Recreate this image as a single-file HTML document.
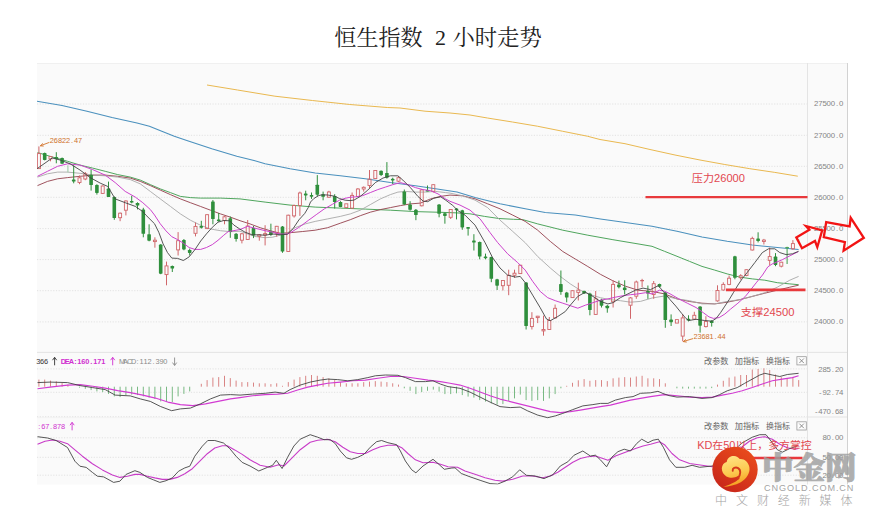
<!DOCTYPE html>
<html lang="zh-CN">
<head>
<meta charset="utf-8">
<title>恒生指数 2 小时走势</title>
<style>
html,body{margin:0;padding:0;background:#fff;}
body{width:869px;height:519px;overflow:hidden;font-family:"Liberation Sans","Noto Sans CJK SC",sans-serif;}
svg{display:block;position:absolute;left:0;top:0;}
</style>
</head>
<body>
<svg width="869" height="519" viewBox="0 0 869 519">
<rect x="37" y="63" width="810.5" height="421.5" fill="#fafafa"/>
<line x1="37" y1="63.5" x2="847.5" y2="63.5" stroke="#f0f0f0" stroke-width="1"/>
<line x1="37" y1="352.4" x2="847.5" y2="352.4" stroke="#e4e4e4" stroke-width="1"/>
<line x1="807.5" y1="417.0" x2="847.5" y2="417.0" stroke="#e4e4e4" stroke-width="1"/>
<line x1="37" y1="417.7" x2="807.5" y2="417.7" stroke="#f3f3f3" stroke-width="1"/>
<line x1="807.5" y1="63" x2="807.5" y2="484.5" stroke="#e4e4e4" stroke-width="1"/>
<line x1="847.5" y1="63" x2="847.5" y2="484.5" stroke="#d2d2d2" stroke-width="1"/>
<line x1="37" y1="104" x2="807.5" y2="104" stroke="#e2e2e2" stroke-width="1" stroke-dasharray="1.2 1.5"/>
<line x1="37" y1="135.3" x2="807.5" y2="135.3" stroke="#e2e2e2" stroke-width="1" stroke-dasharray="1.2 1.5"/>
<line x1="37" y1="166.3" x2="807.5" y2="166.3" stroke="#e2e2e2" stroke-width="1" stroke-dasharray="1.2 1.5"/>
<line x1="37" y1="197.3" x2="807.5" y2="197.3" stroke="#e2e2e2" stroke-width="1" stroke-dasharray="1.2 1.5"/>
<line x1="37" y1="228.6" x2="807.5" y2="228.6" stroke="#e2e2e2" stroke-width="1" stroke-dasharray="1.2 1.5"/>
<line x1="37" y1="259.6" x2="807.5" y2="259.6" stroke="#e2e2e2" stroke-width="1" stroke-dasharray="1.2 1.5"/>
<line x1="37" y1="290.7" x2="807.5" y2="290.7" stroke="#e2e2e2" stroke-width="1" stroke-dasharray="1.2 1.5"/>
<line x1="37" y1="321.9" x2="807.5" y2="321.9" stroke="#e2e2e2" stroke-width="1" stroke-dasharray="1.2 1.5"/>
<line x1="37" y1="368.9" x2="807.5" y2="368.9" stroke="#e2e2e2" stroke-width="1" stroke-dasharray="1.2 1.5"/>
<line x1="37" y1="392.3" x2="807.5" y2="392.3" stroke="#e2e2e2" stroke-width="1" stroke-dasharray="1.2 1.5"/>
<line x1="37" y1="416.7" x2="807.5" y2="416.7" stroke="#e2e2e2" stroke-width="1" stroke-dasharray="1.2 1.5"/>
<line x1="37" y1="437.8" x2="807.5" y2="437.8" stroke="#e2e2e2" stroke-width="1" stroke-dasharray="1.2 1.5"/>
<line x1="37" y1="457.3" x2="807.5" y2="457.3" stroke="#e2e2e2" stroke-width="1" stroke-dasharray="1.2 1.5"/>
<line x1="37" y1="475.2" x2="807.5" y2="475.2" stroke="#e2e2e2" stroke-width="1" stroke-dasharray="1.2 1.5"/>
<text x="814.1 818.3 822.5 826.6 830.8 836 839.1" y="106.3" font-family="'Liberation Sans', sans-serif" font-size="7.8" fill="#858585" font-weight="normal">27500.0</text>
<text x="814.1 818.3 822.5 826.6 830.8 836 839.1" y="137.6" font-family="'Liberation Sans', sans-serif" font-size="7.8" fill="#858585" font-weight="normal">27000.0</text>
<text x="814.1 818.3 822.5 826.6 830.8 836 839.1" y="168.6" font-family="'Liberation Sans', sans-serif" font-size="7.8" fill="#858585" font-weight="normal">26500.0</text>
<text x="814.1 818.3 822.5 826.6 830.8 836 839.1" y="199.6" font-family="'Liberation Sans', sans-serif" font-size="7.8" fill="#858585" font-weight="normal">26000.0</text>
<text x="814.1 818.3 822.5 826.6 830.8 836 839.1" y="230.9" font-family="'Liberation Sans', sans-serif" font-size="7.8" fill="#858585" font-weight="normal">25500.0</text>
<text x="814.1 818.3 822.5 826.6 830.8 836 839.1" y="261.9" font-family="'Liberation Sans', sans-serif" font-size="7.8" fill="#858585" font-weight="normal">25000.0</text>
<text x="814.1 818.3 822.5 826.6 830.8 836 839.1" y="293" font-family="'Liberation Sans', sans-serif" font-size="7.8" fill="#858585" font-weight="normal">24500.0</text>
<text x="814.1 818.3 822.5 826.6 830.8 836 839.1" y="324.2" font-family="'Liberation Sans', sans-serif" font-size="7.8" fill="#858585" font-weight="normal">24000.0</text>
<text x="818.3 822.5 826.6 831.8 835 839.1" y="371.5" font-family="'Liberation Sans', sans-serif" font-size="7.8" fill="#858585" font-weight="normal">285.20</text>
<text x="819.1 822.5 826.6 831.8 835 839.1" y="394.9" font-family="'Liberation Sans', sans-serif" font-size="7.8" fill="#858585" font-weight="normal">-92.74</text>
<text x="814.9 818.3 822.5 826.6 831.8 835 839.1" y="413.9" font-family="'Liberation Sans', sans-serif" font-size="7.8" fill="#858585" font-weight="normal">-470.68</text>
<text x="822.5 826.6 831.8 835 839.1" y="440.3" font-family="'Liberation Sans', sans-serif" font-size="7.8" fill="#858585" font-weight="normal">80.00</text>
<text x="822.5 826.6 831.8 835 839.1" y="459.6" font-family="'Liberation Sans', sans-serif" font-size="7.8" fill="#858585" font-weight="normal">50.00</text>
<text x="822.5 826.6 831.8 835 839.1" y="477.7" font-family="'Liberation Sans', sans-serif" font-size="7.8" fill="#858585" font-weight="normal">20.00</text>
<clipPath id="cp"><rect x="37" y="63" width="770.5" height="421.5"/></clipPath>
<g clip-path="url(#cp)">
<polyline points="207,85 237.5,90 274.9,96.2 312.4,100.5 349.8,104.5 387.3,107.5 400,108 425,111.2 450,113 470,115 487.4,118 512.4,122 537.3,126.2 562.3,131.2 587.3,136.2 600,139.5 625,143.7 650,149.5 675,155 700,160 724.8,164.5 749.8,168.7 774.8,172.4 797.8,176.2" fill="none" stroke="#e9b850" stroke-width="1.0" stroke-linejoin="round" />
<polyline points="37,101.2 62,105.5 87,111.2 112,117.5 137,123 149.4,126.2 161.8,131.2 174.3,136.2 186.8,140.4 211.8,148.7 236.8,156.2 254,160.4 265.1,163.8 290.1,168.8 315.2,173.1 340.3,175.8 365.3,178.8 390.4,182.6 415.4,185.8 440.5,189.6 457,192.1 475,197.6 500,203.8 525.2,208.8 545.2,212.6 575.3,215.1 600.4,218.9 625.4,222.6 652,226.3 677,231.3 702,237 727.2,241.3 752.3,245 777.3,247.6 798.6,249.6" fill="none" stroke="#4a90bd" stroke-width="1.05" stroke-linejoin="round" />
<polyline points="37.5,152.5 50,156.3 67.6,161.3 80.1,165.1 92.7,168.1 105.2,171.3 117.7,174.6 130.3,177.1 140.3,180.1 150.3,184.6 160.3,188.9 170.4,192.6 180.4,196.4 190.4,197.6 200.4,198.1 220.5,198.1 240,198.9 265.1,202.1 290.1,205.1 315.2,207.1 340.3,208.1 365.3,209.1 390.4,210.2 415.4,211.6 440.5,212.3 457,212.9 470,213.8 484.5,216.4 498.9,218.5 513.4,219.3 522.7,219.6 537.7,223.9 562.8,230.2 587.8,235.2 612.9,239.7 638,243.9 652,246.3 664.5,251.3 677,256.3 689.6,261.4 702,266.4 714.7,270.1 727.2,273.9 739.7,277.1 752.3,278.9 764.8,280.2 777.3,282.7 789.8,283.9 798.6,284.7" fill="none" stroke="#46a054" stroke-width="0.95" stroke-linejoin="round" />
<polyline points="37.5,185.6 47.5,181.4 57.6,178.8 67.6,177.6 80.1,176.3 92.7,175.1 105.2,175.1 117.7,176.3 130.3,178.1 140.3,181.4 150.3,185.6 160.3,190.1 170.4,194.6 180.4,198.9 190.4,202.7 200.4,206.4 210.5,210.2 220.5,213.9 230.5,217.2 240,220.7 250,223.9 260.1,227.7 270.1,230.7 280.1,233.2 290.1,232.7 302.7,231.5 315.2,230.2 327.7,227.7 340.3,223.2 350.3,219.7 360.3,215.7 370.3,212.2 380.4,209.6 390.4,207.6 400.4,205.6 410.4,203.9 420.5,203.1 430.5,198.9 440.5,196.4 450,195.1 462.5,195.8 475,198.8 487.6,203.8 500,208.8 512.7,215.1 525.2,221.4 537.7,230.2 550.3,241.4 562.8,251.5 575.3,259 587.8,266.5 600.4,274.3 612.9,280.8 625.4,286.2 638,290.2 652,291.4 664.5,293.9 677,298.9 689.6,301.5 702,303.2 714.7,303.9 727.2,302.2 739.7,299.7 752.3,296.4 764.8,293.2 777.3,290.2 789.8,287.2 798.6,285.2" fill="none" stroke="#94404c" stroke-width="0.9" stroke-linejoin="round" />
<polyline points="37.5,177.1 47.5,173.8 57.6,172.1 67.6,172.1 80.1,173.3 92.7,175.1 105.2,175.8 117.7,177.1 130.3,179.6 140.3,183.9 150.3,191.4 160.3,198.9 170.4,206.4 180.4,213.9 190.4,220.2 200.4,225.2 210.5,229 220.5,230.7 230.5,231.7 240,231.2 255,236.5 265.1,237.7 272.6,237.2 280.1,235.2 287.6,232.7 295.1,227.7 305.2,223.9 315.2,221.4 327.7,218.9 340.3,216.4 350.3,213.9 360.3,210.2 370.3,204.6 380.4,198.9 390.4,194.6 397.9,192.1 405.4,191.4 415.4,192.1 425.5,192.1 435.5,191.4 445.5,192.6 450,193.1 462.5,195.8 475,200.1 487.6,207.6 500,220.1 512.7,231.4 525.2,242.7 537.7,256.5 550.3,268 560.3,276.4 570.3,283.9 580.3,290.2 590.4,294.7 600.4,297.7 610.4,299.7 620.4,300.7 630.5,302.2 640.5,301.4 652,298 664.5,296 677,298.9 689.6,300.7 702,303.9 714.7,303.9 727.2,301.4 739.7,299.7 752.3,296.4 764.8,292.7 777.3,287.2 789.8,280.2 798.6,276.4" fill="none" stroke="#a8a8a8" stroke-width="0.9" stroke-linejoin="round" />
<line x1="38.9" y1="146.4" x2="38.9" y2="153.6" stroke="#d0666a" stroke-width="1"/>
<rect x="37.4" y="153.6" width="3" height="15" fill="none" stroke="#d0666a" stroke-width="0.9"/>
<line x1="44.7" y1="152.6" x2="44.7" y2="160.4" stroke="#2f8f3c" stroke-width="1"/>
<rect x="42.9" y="153.1" width="3.6" height="6.8" rx="0.6" fill="#2f8f3c"/>
<line x1="50.5" y1="158.9" x2="50.5" y2="161.3" stroke="#d0666a" stroke-width="1"/>
<rect x="49" y="156.5" width="3" height="2.4" fill="none" stroke="#d0666a" stroke-width="0.9"/>
<line x1="56.3" y1="152.2" x2="56.3" y2="163.3" stroke="#2f8f3c" stroke-width="1"/>
<rect x="54.5" y="157" width="3.6" height="2" rx="0.6" fill="#2f8f3c"/>
<line x1="62.1" y1="157.5" x2="62.1" y2="163.7" stroke="#2f8f3c" stroke-width="1"/>
<rect x="60.3" y="158" width="3.6" height="5.7" rx="0.6" fill="#2f8f3c"/>
<line x1="67.9" y1="165.2" x2="67.9" y2="172.4" stroke="#a9cdb0" stroke-width="1.2"/>
<line x1="73.7" y1="165.2" x2="73.7" y2="183.3" stroke="#2f8f3c" stroke-width="1"/>
<rect x="71.9" y="179.5" width="3.6" height="2.1" rx="0.6" fill="#2f8f3c"/>
<line x1="79.5" y1="175.5" x2="79.5" y2="177.8" stroke="#d0666a" stroke-width="1"/>
<line x1="79.5" y1="182.5" x2="79.5" y2="184.2" stroke="#d0666a" stroke-width="1"/>
<rect x="78" y="177.8" width="3" height="4.7" fill="none" stroke="#d0666a" stroke-width="0.9"/>
<line x1="85.3" y1="172" x2="85.3" y2="173.8" stroke="#d0666a" stroke-width="1"/>
<line x1="85.3" y1="179" x2="85.3" y2="180.2" stroke="#d0666a" stroke-width="1"/>
<rect x="83.8" y="173.8" width="3" height="5.2" fill="none" stroke="#d0666a" stroke-width="0.9"/>
<line x1="91.1" y1="169.5" x2="91.1" y2="190.6" stroke="#2f8f3c" stroke-width="1"/>
<rect x="89.3" y="174.7" width="3.6" height="10.3" rx="0.6" fill="#2f8f3c"/>
<line x1="96.9" y1="184.2" x2="96.9" y2="194.6" stroke="#2f8f3c" stroke-width="1"/>
<rect x="95.1" y="185" width="3.6" height="7.9" rx="0.6" fill="#2f8f3c"/>
<line x1="102.7" y1="185.5" x2="102.7" y2="186" stroke="#d0666a" stroke-width="1"/>
<line x1="102.7" y1="193.4" x2="102.7" y2="194" stroke="#d0666a" stroke-width="1"/>
<rect x="101.2" y="186" width="3" height="7.4" fill="none" stroke="#d0666a" stroke-width="0.9"/>
<line x1="108.5" y1="181.6" x2="108.5" y2="196.9" stroke="#2f8f3c" stroke-width="1"/>
<rect x="106.7" y="188.6" width="3.6" height="8.3" rx="0.6" fill="#2f8f3c"/>
<line x1="114.3" y1="196.4" x2="114.3" y2="219.8" stroke="#2f8f3c" stroke-width="1"/>
<rect x="112.5" y="196.9" width="3.6" height="21.1" rx="0.6" fill="#2f8f3c"/>
<line x1="120.1" y1="212.5" x2="120.1" y2="213.2" stroke="#d0666a" stroke-width="1"/>
<line x1="120.1" y1="217.7" x2="120.1" y2="221.2" stroke="#d0666a" stroke-width="1"/>
<rect x="118.6" y="213.2" width="3" height="4.5" fill="none" stroke="#d0666a" stroke-width="0.9"/>
<line x1="125.9" y1="200.3" x2="125.9" y2="201" stroke="#d0666a" stroke-width="1"/>
<line x1="125.9" y1="210.2" x2="125.9" y2="215.4" stroke="#d0666a" stroke-width="1"/>
<rect x="124.4" y="201" width="3" height="9.2" fill="none" stroke="#d0666a" stroke-width="0.9"/>
<line x1="131.7" y1="195.8" x2="131.7" y2="203.3" stroke="#2f8f3c" stroke-width="1"/>
<rect x="129.9" y="201" width="3.6" height="1.6" rx="0.6" fill="#2f8f3c"/>
<line x1="137.5" y1="202.3" x2="137.5" y2="209.4" stroke="#2f8f3c" stroke-width="1"/>
<rect x="135.7" y="203" width="3.6" height="2.5" rx="0.6" fill="#2f8f3c"/>
<line x1="143.3" y1="207.8" x2="143.3" y2="237.3" stroke="#2f8f3c" stroke-width="1"/>
<rect x="141.5" y="209.5" width="3.6" height="24.3" rx="0.6" fill="#2f8f3c"/>
<line x1="149.1" y1="224.3" x2="149.1" y2="241.3" stroke="#2f8f3c" stroke-width="1"/>
<rect x="147.3" y="234.2" width="3.6" height="6.5" rx="0.6" fill="#2f8f3c"/>
<line x1="154.9" y1="237.3" x2="154.9" y2="240.2" stroke="#d0666a" stroke-width="1"/>
<line x1="154.9" y1="241.6" x2="154.9" y2="247.7" stroke="#d0666a" stroke-width="1"/>
<rect x="153.4" y="240.2" width="3" height="1.4" fill="none" stroke="#d0666a" stroke-width="0.9"/>
<line x1="160.7" y1="244.2" x2="160.7" y2="274.2" stroke="#2f8f3c" stroke-width="1"/>
<rect x="158.9" y="244.6" width="3.6" height="29.1" rx="0.6" fill="#2f8f3c"/>
<line x1="166.5" y1="261.6" x2="166.5" y2="265.9" stroke="#d0666a" stroke-width="1"/>
<line x1="166.5" y1="274.6" x2="166.5" y2="285.3" stroke="#d0666a" stroke-width="1"/>
<rect x="165" y="265.9" width="3" height="8.7" fill="none" stroke="#d0666a" stroke-width="0.9"/>
<line x1="172.3" y1="265.5" x2="172.3" y2="272" stroke="#2f8f3c" stroke-width="1"/>
<rect x="170.5" y="265.9" width="3.6" height="2.6" rx="0.6" fill="#2f8f3c"/>
<line x1="178.1" y1="232.1" x2="178.1" y2="240.7" stroke="#d0666a" stroke-width="1"/>
<line x1="178.1" y1="249.9" x2="178.1" y2="255.5" stroke="#d0666a" stroke-width="1"/>
<rect x="176.6" y="240.7" width="3" height="9.2" fill="none" stroke="#d0666a" stroke-width="0.9"/>
<line x1="183.9" y1="239" x2="183.9" y2="250.3" stroke="#2f8f3c" stroke-width="1"/>
<rect x="182.1" y="239.9" width="3.6" height="9.5" rx="0.6" fill="#2f8f3c"/>
<line x1="189.7" y1="248.6" x2="189.7" y2="255.5" stroke="#2f8f3c" stroke-width="1"/>
<rect x="187.9" y="249.9" width="3.6" height="3" rx="0.6" fill="#2f8f3c"/>
<line x1="195.5" y1="222.5" x2="195.5" y2="226.4" stroke="#d0666a" stroke-width="1"/>
<line x1="195.5" y1="233.3" x2="195.5" y2="236.4" stroke="#d0666a" stroke-width="1"/>
<rect x="194" y="226.4" width="3" height="6.9" fill="none" stroke="#d0666a" stroke-width="0.9"/>
<line x1="201.3" y1="220.8" x2="201.3" y2="228.6" stroke="#2f8f3c" stroke-width="1"/>
<rect x="199.5" y="226" width="3.6" height="1.7" rx="0.6" fill="#2f8f3c"/>
<line x1="207.1" y1="214.2" x2="207.1" y2="214.7" stroke="#d0666a" stroke-width="1"/>
<line x1="207.1" y1="228.6" x2="207.1" y2="229.1" stroke="#d0666a" stroke-width="1"/>
<rect x="205.6" y="214.7" width="3" height="13.9" fill="none" stroke="#d0666a" stroke-width="0.9"/>
<line x1="212.9" y1="200" x2="212.9" y2="224.3" stroke="#2f8f3c" stroke-width="1"/>
<rect x="211.1" y="201.4" width="3.6" height="17.7" rx="0.6" fill="#2f8f3c"/>
<line x1="218.7" y1="213" x2="218.7" y2="221.7" stroke="#2f8f3c" stroke-width="1"/>
<rect x="216.9" y="219.6" width="3.6" height="1.6" rx="0.6" fill="#2f8f3c"/>
<line x1="224.5" y1="215.6" x2="224.5" y2="216.8" stroke="#d0666a" stroke-width="1"/>
<line x1="224.5" y1="220.5" x2="224.5" y2="224.3" stroke="#d0666a" stroke-width="1"/>
<rect x="223" y="216.8" width="3" height="3.7" fill="none" stroke="#d0666a" stroke-width="0.9"/>
<line x1="230.3" y1="216.5" x2="230.3" y2="237.8" stroke="#2f8f3c" stroke-width="1"/>
<rect x="228.5" y="218.2" width="3.6" height="13.9" rx="0.6" fill="#2f8f3c"/>
<line x1="236.1" y1="233" x2="236.1" y2="241.6" stroke="#2f8f3c" stroke-width="1"/>
<rect x="234.3" y="233.8" width="3.6" height="5.2" rx="0.6" fill="#2f8f3c"/>
<line x1="241.9" y1="233" x2="241.9" y2="233.8" stroke="#d0666a" stroke-width="1"/>
<line x1="241.9" y1="240.2" x2="241.9" y2="243.4" stroke="#d0666a" stroke-width="1"/>
<rect x="240.4" y="233.8" width="3" height="6.4" fill="none" stroke="#d0666a" stroke-width="0.9"/>
<line x1="247.7" y1="220" x2="247.7" y2="226" stroke="#d0666a" stroke-width="1"/>
<line x1="247.7" y1="239.5" x2="247.7" y2="240" stroke="#d0666a" stroke-width="1"/>
<rect x="246.2" y="226" width="3" height="13.5" fill="none" stroke="#d0666a" stroke-width="0.9"/>
<line x1="253.5" y1="226" x2="253.5" y2="238.1" stroke="#2f8f3c" stroke-width="1"/>
<rect x="251.7" y="228.1" width="3.6" height="7.4" rx="0.6" fill="#2f8f3c"/>
<line x1="259.3" y1="234" x2="259.3" y2="234.7" stroke="#d0666a" stroke-width="1"/>
<line x1="259.3" y1="236.3" x2="259.3" y2="240.7" stroke="#d0666a" stroke-width="1"/>
<rect x="257.8" y="234.7" width="3" height="1.6" fill="none" stroke="#d0666a" stroke-width="0.9"/>
<line x1="265.1" y1="225.2" x2="265.1" y2="233.6" stroke="#d0666a" stroke-width="1"/>
<line x1="265.1" y1="234.6" x2="265.1" y2="245.4" stroke="#d0666a" stroke-width="1"/>
<rect x="263.6" y="233.6" width="3" height="1.4" fill="none" stroke="#d0666a" stroke-width="0.9"/>
<line x1="270.9" y1="223.7" x2="270.9" y2="235.9" stroke="#2f8f3c" stroke-width="1"/>
<rect x="269.1" y="231.5" width="3.6" height="3.5" rx="0.6" fill="#2f8f3c"/>
<line x1="276.7" y1="225.9" x2="276.7" y2="226.3" stroke="#d0666a" stroke-width="1"/>
<line x1="276.7" y1="233.2" x2="276.7" y2="236.7" stroke="#d0666a" stroke-width="1"/>
<rect x="275.2" y="226.3" width="3" height="6.9" fill="none" stroke="#d0666a" stroke-width="0.9"/>
<line x1="282.5" y1="226" x2="282.5" y2="252.8" stroke="#2f8f3c" stroke-width="1"/>
<rect x="280.7" y="226.4" width="3.6" height="25.1" rx="0.6" fill="#2f8f3c"/>
<line x1="288.3" y1="214.7" x2="288.3" y2="215.2" stroke="#d0666a" stroke-width="1"/>
<line x1="288.3" y1="251.5" x2="288.3" y2="252" stroke="#d0666a" stroke-width="1"/>
<rect x="286.8" y="215.2" width="3" height="36.3" fill="none" stroke="#d0666a" stroke-width="0.9"/>
<line x1="294.1" y1="204.6" x2="294.1" y2="205.5" stroke="#d0666a" stroke-width="1"/>
<line x1="294.1" y1="215.9" x2="294.1" y2="217.6" stroke="#d0666a" stroke-width="1"/>
<rect x="292.6" y="205.5" width="3" height="10.4" fill="none" stroke="#d0666a" stroke-width="0.9"/>
<line x1="299.9" y1="191.6" x2="299.9" y2="193" stroke="#d0666a" stroke-width="1"/>
<line x1="299.9" y1="205.5" x2="299.9" y2="215.9" stroke="#d0666a" stroke-width="1"/>
<rect x="298.4" y="193" width="3" height="12.5" fill="none" stroke="#d0666a" stroke-width="0.9"/>
<line x1="305.7" y1="190.7" x2="305.7" y2="200.3" stroke="#2f8f3c" stroke-width="1"/>
<rect x="303.9" y="193.4" width="3.6" height="2" rx="0.6" fill="#2f8f3c"/>
<line x1="311.5" y1="192.5" x2="311.5" y2="198.9" stroke="#2f8f3c" stroke-width="1"/>
<rect x="309.7" y="195.1" width="3.6" height="1.6" rx="0.6" fill="#2f8f3c"/>
<line x1="317.3" y1="175.1" x2="317.3" y2="196.5" stroke="#2f8f3c" stroke-width="1"/>
<rect x="315.5" y="184.7" width="3.6" height="10" rx="0.6" fill="#2f8f3c"/>
<line x1="323.1" y1="191.6" x2="323.1" y2="200.3" stroke="#2f8f3c" stroke-width="1"/>
<rect x="321.3" y="194.2" width="3.6" height="2.6" rx="0.6" fill="#2f8f3c"/>
<line x1="328.9" y1="190.8" x2="328.9" y2="192" stroke="#d0666a" stroke-width="1"/>
<line x1="328.9" y1="197.2" x2="328.9" y2="197.7" stroke="#d0666a" stroke-width="1"/>
<rect x="327.4" y="192" width="3" height="5.2" fill="none" stroke="#d0666a" stroke-width="0.9"/>
<line x1="334.7" y1="194.2" x2="334.7" y2="208.6" stroke="#2f8f3c" stroke-width="1"/>
<rect x="332.9" y="196" width="3.6" height="6" rx="0.6" fill="#2f8f3c"/>
<line x1="340.5" y1="201.2" x2="340.5" y2="207.2" stroke="#2f8f3c" stroke-width="1"/>
<rect x="338.7" y="202" width="3.6" height="4.9" rx="0.6" fill="#2f8f3c"/>
<rect x="344.8" y="203.8" width="3" height="3.8" fill="none" stroke="#d0666a" stroke-width="0.9"/>
<line x1="352.1" y1="192.5" x2="352.1" y2="195.4" stroke="#d0666a" stroke-width="1"/>
<line x1="352.1" y1="208.1" x2="352.1" y2="208.6" stroke="#d0666a" stroke-width="1"/>
<rect x="350.6" y="195.4" width="3" height="12.7" fill="none" stroke="#d0666a" stroke-width="0.9"/>
<line x1="357.9" y1="188.1" x2="357.9" y2="189" stroke="#d0666a" stroke-width="1"/>
<line x1="357.9" y1="196.5" x2="357.9" y2="197.2" stroke="#d0666a" stroke-width="1"/>
<rect x="356.4" y="189" width="3" height="7.5" fill="none" stroke="#d0666a" stroke-width="0.9"/>
<line x1="363.7" y1="186.4" x2="363.7" y2="187.3" stroke="#d0666a" stroke-width="1"/>
<line x1="363.7" y1="189" x2="363.7" y2="191.6" stroke="#d0666a" stroke-width="1"/>
<rect x="362.2" y="187.3" width="3" height="1.7" fill="none" stroke="#d0666a" stroke-width="0.9"/>
<line x1="369.5" y1="170" x2="369.5" y2="179.1" stroke="#d0666a" stroke-width="1"/>
<line x1="369.5" y1="185.5" x2="369.5" y2="188.1" stroke="#d0666a" stroke-width="1"/>
<rect x="368" y="179.1" width="3" height="6.4" fill="none" stroke="#d0666a" stroke-width="0.9"/>
<line x1="375.3" y1="170" x2="375.3" y2="170.5" stroke="#d0666a" stroke-width="1"/>
<line x1="375.3" y1="178.6" x2="375.3" y2="179" stroke="#d0666a" stroke-width="1"/>
<rect x="373.8" y="170.5" width="3" height="8.1" fill="none" stroke="#d0666a" stroke-width="0.9"/>
<line x1="381.1" y1="170.5" x2="381.1" y2="176" stroke="#2f8f3c" stroke-width="1"/>
<rect x="379.3" y="170.8" width="3.6" height="4.3" rx="0.6" fill="#2f8f3c"/>
<line x1="386.9" y1="162.1" x2="386.9" y2="178.6" stroke="#2f8f3c" stroke-width="1"/>
<rect x="385.1" y="172.9" width="3.6" height="4.8" rx="0.6" fill="#2f8f3c"/>
<line x1="392.7" y1="177.7" x2="392.7" y2="184" stroke="#2f8f3c" stroke-width="1"/>
<rect x="390.9" y="178.8" width="3.6" height="1.6" rx="0.6" fill="#2f8f3c"/>
<line x1="398.5" y1="176" x2="398.5" y2="177.7" stroke="#d0666a" stroke-width="1"/>
<line x1="398.5" y1="181.2" x2="398.5" y2="182" stroke="#d0666a" stroke-width="1"/>
<rect x="397" y="177.7" width="3" height="3.5" fill="none" stroke="#d0666a" stroke-width="0.9"/>
<line x1="404.3" y1="189.5" x2="404.3" y2="205.1" stroke="#2f8f3c" stroke-width="1"/>
<rect x="402.5" y="191.6" width="3.6" height="13" rx="0.6" fill="#2f8f3c"/>
<line x1="410.1" y1="201.2" x2="410.1" y2="210.7" stroke="#2f8f3c" stroke-width="1"/>
<rect x="408.3" y="204.6" width="3.6" height="5.2" rx="0.6" fill="#2f8f3c"/>
<line x1="415.9" y1="209" x2="415.9" y2="220.2" stroke="#2f8f3c" stroke-width="1"/>
<rect x="414.1" y="209.8" width="3.6" height="5.2" rx="0.6" fill="#2f8f3c"/>
<line x1="421.7" y1="189" x2="421.7" y2="189.9" stroke="#d0666a" stroke-width="1"/>
<line x1="421.7" y1="205.8" x2="421.7" y2="206.4" stroke="#d0666a" stroke-width="1"/>
<rect x="420.2" y="189.9" width="3" height="15.9" fill="none" stroke="#d0666a" stroke-width="0.9"/>
<line x1="427.5" y1="185.5" x2="427.5" y2="191.3" stroke="#2f8f3c" stroke-width="1"/>
<rect x="425.7" y="189.9" width="3.6" height="1.6" rx="0.6" fill="#2f8f3c"/>
<line x1="433.3" y1="184.3" x2="433.3" y2="184.7" stroke="#d0666a" stroke-width="1"/>
<line x1="433.3" y1="191.3" x2="433.3" y2="192.5" stroke="#d0666a" stroke-width="1"/>
<rect x="431.8" y="184.7" width="3" height="6.6" fill="none" stroke="#d0666a" stroke-width="0.9"/>
<line x1="439.1" y1="204.1" x2="439.1" y2="217.3" stroke="#2f8f3c" stroke-width="1"/>
<rect x="437.3" y="204.6" width="3.6" height="9.2" rx="0.6" fill="#2f8f3c"/>
<line x1="444.9" y1="212.4" x2="444.9" y2="223.7" stroke="#2f8f3c" stroke-width="1"/>
<rect x="443.1" y="213.3" width="3.6" height="2.6" rx="0.6" fill="#2f8f3c"/>
<line x1="450.7" y1="209" x2="450.7" y2="209.5" stroke="#d0666a" stroke-width="1"/>
<line x1="450.7" y1="217.3" x2="450.7" y2="219" stroke="#d0666a" stroke-width="1"/>
<rect x="449.2" y="209.5" width="3" height="7.8" fill="none" stroke="#d0666a" stroke-width="0.9"/>
<line x1="456.5" y1="208.1" x2="456.5" y2="219.4" stroke="#2f8f3c" stroke-width="1"/>
<rect x="454.7" y="208.6" width="3.6" height="1.6" rx="0.6" fill="#2f8f3c"/>
<line x1="462.3" y1="209.8" x2="462.3" y2="229.8" stroke="#2f8f3c" stroke-width="1"/>
<rect x="460.5" y="210.3" width="3.6" height="17.1" rx="0.6" fill="#2f8f3c"/>
<line x1="468.1" y1="227.1" x2="468.1" y2="235.6" stroke="#2f8f3c" stroke-width="1"/>
<rect x="466.3" y="227.1" width="3.6" height="1.6" rx="0.6" fill="#2f8f3c"/>
<line x1="473.9" y1="234.2" x2="473.9" y2="250.5" stroke="#2f8f3c" stroke-width="1"/>
<rect x="472.1" y="240.5" width="3.6" height="2" rx="0.6" fill="#2f8f3c"/>
<line x1="479.7" y1="241.5" x2="479.7" y2="259.3" stroke="#2f8f3c" stroke-width="1"/>
<rect x="477.9" y="242" width="3.6" height="14.6" rx="0.6" fill="#2f8f3c"/>
<line x1="485.5" y1="253.6" x2="485.5" y2="259.3" stroke="#2f8f3c" stroke-width="1"/>
<rect x="483.7" y="256.6" width="3.6" height="1.6" rx="0.6" fill="#2f8f3c"/>
<line x1="491.3" y1="256.6" x2="491.3" y2="282.2" stroke="#2f8f3c" stroke-width="1"/>
<rect x="489.5" y="257.1" width="3.6" height="21.7" rx="0.6" fill="#2f8f3c"/>
<line x1="497.1" y1="278.8" x2="497.1" y2="290" stroke="#2f8f3c" stroke-width="1"/>
<rect x="495.3" y="279.3" width="3.6" height="6.4" rx="0.6" fill="#2f8f3c"/>
<line x1="502.9" y1="280.1" x2="502.9" y2="280.5" stroke="#d0666a" stroke-width="1"/>
<line x1="502.9" y1="285.7" x2="502.9" y2="290.5" stroke="#d0666a" stroke-width="1"/>
<rect x="501.4" y="280.5" width="3" height="5.2" fill="none" stroke="#d0666a" stroke-width="0.9"/>
<line x1="508.7" y1="269.7" x2="508.7" y2="275.3" stroke="#d0666a" stroke-width="1"/>
<line x1="508.7" y1="285.3" x2="508.7" y2="295.2" stroke="#d0666a" stroke-width="1"/>
<rect x="507.2" y="275.3" width="3" height="10" fill="none" stroke="#d0666a" stroke-width="0.9"/>
<line x1="514.5" y1="269.7" x2="514.5" y2="273.2" stroke="#d0666a" stroke-width="1"/>
<line x1="514.5" y1="275.3" x2="514.5" y2="277.9" stroke="#d0666a" stroke-width="1"/>
<rect x="513" y="273.2" width="3" height="2.1" fill="none" stroke="#d0666a" stroke-width="0.9"/>
<line x1="520.3" y1="264.9" x2="520.3" y2="265.2" stroke="#d0666a" stroke-width="1"/>
<line x1="520.3" y1="273.6" x2="520.3" y2="273.9" stroke="#d0666a" stroke-width="1"/>
<rect x="518.8" y="265.2" width="3" height="8.4" fill="none" stroke="#d0666a" stroke-width="0.9"/>
<line x1="526.1" y1="282" x2="526.1" y2="329.5" stroke="#2f8f3c" stroke-width="1"/>
<rect x="524.3" y="282.4" width="3.6" height="43.6" rx="0.6" fill="#2f8f3c"/>
<line x1="531.9" y1="312.2" x2="531.9" y2="318.4" stroke="#d0666a" stroke-width="1"/>
<line x1="531.9" y1="326.6" x2="531.9" y2="329.5" stroke="#d0666a" stroke-width="1"/>
<rect x="530.4" y="318.4" width="3" height="8.2" fill="none" stroke="#d0666a" stroke-width="0.9"/>
<line x1="537.7" y1="315.9" x2="537.7" y2="316.2" stroke="#d0666a" stroke-width="1"/>
<line x1="537.7" y1="317.4" x2="537.7" y2="323.1" stroke="#d0666a" stroke-width="1"/>
<rect x="536.2" y="316.2" width="3" height="1.4" fill="none" stroke="#d0666a" stroke-width="0.9"/>
<line x1="543.5" y1="315.6" x2="543.5" y2="329.5" stroke="#d0666a" stroke-width="1"/>
<line x1="543.5" y1="330.5" x2="543.5" y2="335.7" stroke="#d0666a" stroke-width="1"/>
<rect x="542" y="329.5" width="3" height="1.4" fill="none" stroke="#d0666a" stroke-width="0.9"/>
<line x1="549.3" y1="317" x2="549.3" y2="320.5" stroke="#d0666a" stroke-width="1"/>
<line x1="549.3" y1="329.5" x2="549.3" y2="330" stroke="#d0666a" stroke-width="1"/>
<rect x="547.8" y="320.5" width="3" height="9" fill="none" stroke="#d0666a" stroke-width="0.9"/>
<line x1="555.1" y1="304.5" x2="555.1" y2="308.3" stroke="#d0666a" stroke-width="1"/>
<line x1="555.1" y1="317.9" x2="555.1" y2="318.4" stroke="#d0666a" stroke-width="1"/>
<rect x="553.6" y="308.3" width="3" height="9.6" fill="none" stroke="#d0666a" stroke-width="0.9"/>
<line x1="560.9" y1="270.5" x2="560.9" y2="294.8" stroke="#2f8f3c" stroke-width="1"/>
<rect x="559.1" y="284.1" width="3.6" height="7.8" rx="0.6" fill="#2f8f3c"/>
<line x1="566.7" y1="291.9" x2="566.7" y2="302.3" stroke="#2f8f3c" stroke-width="1"/>
<rect x="564.9" y="292.4" width="3.6" height="5.2" rx="0.6" fill="#2f8f3c"/>
<line x1="572.5" y1="290.3" x2="572.5" y2="290.7" stroke="#d0666a" stroke-width="1"/>
<line x1="572.5" y1="297.6" x2="572.5" y2="298" stroke="#d0666a" stroke-width="1"/>
<rect x="571" y="290.7" width="3" height="6.9" fill="none" stroke="#d0666a" stroke-width="0.9"/>
<line x1="578.3" y1="282.7" x2="578.3" y2="290.1" stroke="#d0666a" stroke-width="1"/>
<line x1="578.3" y1="292.4" x2="578.3" y2="300.5" stroke="#d0666a" stroke-width="1"/>
<rect x="576.8" y="290.1" width="3" height="2.3" fill="none" stroke="#d0666a" stroke-width="0.9"/>
<line x1="584.1" y1="290.5" x2="584.1" y2="294" stroke="#2f8f3c" stroke-width="1"/>
<rect x="582.3" y="291" width="3.6" height="2.6" rx="0.6" fill="#2f8f3c"/>
<line x1="589.9" y1="292.7" x2="589.9" y2="315.3" stroke="#2f8f3c" stroke-width="1"/>
<rect x="588.1" y="293.6" width="3.6" height="16.5" rx="0.6" fill="#2f8f3c"/>
<line x1="595.7" y1="291" x2="595.7" y2="298.8" stroke="#d0666a" stroke-width="1"/>
<line x1="595.7" y1="314.4" x2="595.7" y2="314.9" stroke="#d0666a" stroke-width="1"/>
<rect x="594.2" y="298.8" width="3" height="15.6" fill="none" stroke="#d0666a" stroke-width="0.9"/>
<line x1="601.5" y1="298.8" x2="601.5" y2="307.5" stroke="#2f8f3c" stroke-width="1"/>
<rect x="599.7" y="299.7" width="3.6" height="6" rx="0.6" fill="#2f8f3c"/>
<line x1="607.3" y1="304.9" x2="607.3" y2="312.7" stroke="#2f8f3c" stroke-width="1"/>
<rect x="605.5" y="305.7" width="3.6" height="2.6" rx="0.6" fill="#2f8f3c"/>
<line x1="613.1" y1="280.3" x2="613.1" y2="284.4" stroke="#d0666a" stroke-width="1"/>
<line x1="613.1" y1="301.8" x2="613.1" y2="307.5" stroke="#d0666a" stroke-width="1"/>
<rect x="611.6" y="284.4" width="3" height="17.4" fill="none" stroke="#d0666a" stroke-width="0.9"/>
<line x1="618.9" y1="280.6" x2="618.9" y2="288.4" stroke="#2f8f3c" stroke-width="1"/>
<rect x="617.1" y="284.4" width="3.6" height="2.8" rx="0.6" fill="#2f8f3c"/>
<line x1="624.7" y1="280.3" x2="624.7" y2="294.5" stroke="#2f8f3c" stroke-width="1"/>
<rect x="622.9" y="287.5" width="3.6" height="2.6" rx="0.6" fill="#2f8f3c"/>
<line x1="630.5" y1="297" x2="630.5" y2="297.9" stroke="#d0666a" stroke-width="1"/>
<line x1="630.5" y1="305.2" x2="630.5" y2="318.8" stroke="#d0666a" stroke-width="1"/>
<rect x="629" y="297.9" width="3" height="7.3" fill="none" stroke="#d0666a" stroke-width="0.9"/>
<line x1="636.3" y1="280.6" x2="636.3" y2="282" stroke="#d0666a" stroke-width="1"/>
<line x1="636.3" y1="296.2" x2="636.3" y2="298.8" stroke="#d0666a" stroke-width="1"/>
<rect x="634.8" y="282" width="3" height="14.2" fill="none" stroke="#d0666a" stroke-width="0.9"/>
<line x1="642.1" y1="278.8" x2="642.1" y2="287.2" stroke="#d0666a" stroke-width="1"/>
<line x1="640.2" y1="280.7" x2="644" y2="280.7" stroke="#d0666a" stroke-width="1.2"/>
<line x1="647.9" y1="285.5" x2="647.9" y2="298.8" stroke="#2f8f3c" stroke-width="1"/>
<rect x="646.1" y="291" width="3.6" height="2.6" rx="0.6" fill="#2f8f3c"/>
<line x1="653.7" y1="281" x2="653.7" y2="283.7" stroke="#d0666a" stroke-width="1"/>
<line x1="653.7" y1="294.5" x2="653.7" y2="298.8" stroke="#d0666a" stroke-width="1"/>
<rect x="652.2" y="283.7" width="3" height="10.8" fill="none" stroke="#d0666a" stroke-width="0.9"/>
<line x1="659.5" y1="283.7" x2="659.5" y2="287.5" stroke="#2f8f3c" stroke-width="1"/>
<rect x="657.7" y="284.1" width="3.6" height="2.6" rx="0.6" fill="#2f8f3c"/>
<line x1="665.3" y1="291.9" x2="665.3" y2="327.8" stroke="#2f8f3c" stroke-width="1"/>
<rect x="663.5" y="292.4" width="3.6" height="27.7" rx="0.6" fill="#2f8f3c"/>
<line x1="671.1" y1="314.4" x2="671.1" y2="326" stroke="#2f8f3c" stroke-width="1"/>
<rect x="669.3" y="319.6" width="3.6" height="2.6" rx="0.6" fill="#2f8f3c"/>
<rect x="675.4" y="319.6" width="3" height="3.5" fill="none" stroke="#d0666a" stroke-width="0.9"/>
<line x1="682.7" y1="314.4" x2="682.7" y2="317.9" stroke="#d0666a" stroke-width="1"/>
<line x1="682.7" y1="336.1" x2="682.7" y2="341.3" stroke="#d0666a" stroke-width="1"/>
<rect x="681.2" y="317.9" width="3" height="18.2" fill="none" stroke="#d0666a" stroke-width="0.9"/>
<line x1="688.5" y1="315.3" x2="688.5" y2="321.4" stroke="#2f8f3c" stroke-width="1"/>
<rect x="686.7" y="318.8" width="3.6" height="1.7" rx="0.6" fill="#2f8f3c"/>
<line x1="694.3" y1="311.8" x2="694.3" y2="315.3" stroke="#d0666a" stroke-width="1"/>
<line x1="694.3" y1="319.1" x2="694.3" y2="319.6" stroke="#d0666a" stroke-width="1"/>
<rect x="692.8" y="315.3" width="3" height="3.8" fill="none" stroke="#d0666a" stroke-width="0.9"/>
<line x1="700.1" y1="306.2" x2="700.1" y2="332.6" stroke="#2f8f3c" stroke-width="1"/>
<rect x="698.3" y="306.6" width="3.6" height="19.1" rx="0.6" fill="#2f8f3c"/>
<line x1="705.9" y1="316.2" x2="705.9" y2="321.4" stroke="#d0666a" stroke-width="1"/>
<line x1="705.9" y1="326.6" x2="705.9" y2="327.5" stroke="#d0666a" stroke-width="1"/>
<rect x="704.4" y="321.4" width="3" height="5.2" fill="none" stroke="#d0666a" stroke-width="0.9"/>
<line x1="711.7" y1="320.2" x2="711.7" y2="326.6" stroke="#2f8f3c" stroke-width="1"/>
<rect x="709.9" y="320.8" width="3.6" height="2.3" rx="0.6" fill="#2f8f3c"/>
<line x1="717.5" y1="285.3" x2="717.5" y2="290.5" stroke="#d0666a" stroke-width="1"/>
<line x1="717.5" y1="300.9" x2="717.5" y2="301.7" stroke="#d0666a" stroke-width="1"/>
<rect x="716" y="290.5" width="3" height="10.4" fill="none" stroke="#d0666a" stroke-width="0.9"/>
<line x1="723.3" y1="282.3" x2="723.3" y2="284.4" stroke="#d0666a" stroke-width="1"/>
<line x1="723.3" y1="290" x2="723.3" y2="290.6" stroke="#d0666a" stroke-width="1"/>
<rect x="721.8" y="284.4" width="3" height="5.6" fill="none" stroke="#d0666a" stroke-width="0.9"/>
<line x1="729.1" y1="275.5" x2="729.1" y2="278.2" stroke="#d0666a" stroke-width="1"/>
<line x1="729.1" y1="284.4" x2="729.1" y2="285.2" stroke="#d0666a" stroke-width="1"/>
<rect x="727.6" y="278.2" width="3" height="6.2" fill="none" stroke="#d0666a" stroke-width="0.9"/>
<line x1="734.9" y1="255.8" x2="734.9" y2="279.3" stroke="#2f8f3c" stroke-width="1"/>
<rect x="733.1" y="256.3" width="3.6" height="21.5" rx="0.6" fill="#2f8f3c"/>
<line x1="740.7" y1="274.2" x2="740.7" y2="275.7" stroke="#d0666a" stroke-width="1"/>
<line x1="740.7" y1="277.7" x2="740.7" y2="279.6" stroke="#d0666a" stroke-width="1"/>
<rect x="739.2" y="275.7" width="3" height="2" fill="none" stroke="#d0666a" stroke-width="0.9"/>
<line x1="746.5" y1="269.3" x2="746.5" y2="269.7" stroke="#d0666a" stroke-width="1"/>
<line x1="746.5" y1="275.5" x2="746.5" y2="276.2" stroke="#d0666a" stroke-width="1"/>
<rect x="745" y="269.7" width="3" height="5.8" fill="none" stroke="#d0666a" stroke-width="0.9"/>
<line x1="752.3" y1="236.7" x2="752.3" y2="238.4" stroke="#d0666a" stroke-width="1"/>
<line x1="752.3" y1="250" x2="752.3" y2="250.5" stroke="#d0666a" stroke-width="1"/>
<rect x="750.8" y="238.4" width="3" height="11.6" fill="none" stroke="#d0666a" stroke-width="0.9"/>
<line x1="758.1" y1="232.3" x2="758.1" y2="242.4" stroke="#2f8f3c" stroke-width="1"/>
<rect x="756.3" y="238.4" width="3.6" height="2.6" rx="0.6" fill="#2f8f3c"/>
<line x1="763.9" y1="238.9" x2="763.9" y2="240.1" stroke="#d0666a" stroke-width="1"/>
<line x1="763.9" y1="241.4" x2="763.9" y2="244.5" stroke="#d0666a" stroke-width="1"/>
<rect x="762.4" y="240.1" width="3" height="1.4" fill="none" stroke="#d0666a" stroke-width="0.9"/>
<line x1="769.7" y1="247.6" x2="769.7" y2="256.6" stroke="#d0666a" stroke-width="1"/>
<line x1="769.7" y1="260.4" x2="769.7" y2="265.3" stroke="#d0666a" stroke-width="1"/>
<rect x="768.2" y="256.6" width="3" height="3.8" fill="none" stroke="#d0666a" stroke-width="0.9"/>
<line x1="775.5" y1="253.1" x2="775.5" y2="266.2" stroke="#2f8f3c" stroke-width="1"/>
<rect x="773.7" y="256.6" width="3.6" height="8.3" rx="0.6" fill="#2f8f3c"/>
<line x1="781.3" y1="261.8" x2="781.3" y2="262.2" stroke="#d0666a" stroke-width="1"/>
<line x1="781.3" y1="266.2" x2="781.3" y2="267.4" stroke="#d0666a" stroke-width="1"/>
<rect x="779.8" y="262.2" width="3" height="4" fill="none" stroke="#d0666a" stroke-width="0.9"/>
<line x1="787.1" y1="246.7" x2="787.1" y2="264" stroke="#4fa65a" stroke-width="1.1"/>
<line x1="785.3" y1="247.6" x2="788.9" y2="247.6" stroke="#4fa65a" stroke-width="1.1"/>
<line x1="792.9" y1="240.1" x2="792.9" y2="243.6" stroke="#d0666a" stroke-width="1"/>
<line x1="792.9" y1="248.8" x2="792.9" y2="249.7" stroke="#d0666a" stroke-width="1"/>
<rect x="791.4" y="243.6" width="3" height="5.2" fill="none" stroke="#d0666a" stroke-width="0.9"/>
<line x1="798.7" y1="239.3" x2="798.7" y2="243.6" stroke="#a9cdb0" stroke-width="1.2"/>
<polyline points="37.5,176.3 47.5,171.3 57.6,166.3 67.6,163.8 80.1,165.1 92.7,169.6 105.2,175.1 115.2,182.6 125.2,191.4 135.3,197.1 142.8,202.7 150.3,209.5 154.5,215 160.2,223.7 166,230.9 171.8,236.7 177.6,239.6 183.4,243.2 189.1,247.5 194.9,249.4 200.7,249.4 206.5,247.5 212.3,244.6 218,240.3 223.8,235.2 228.2,231.6 233.9,230.6 240,229.5 247.5,226.4 255,228.2 265.1,230.7 272.6,232.2 280.1,234 286.4,234.2 289.7,233.2 298.9,227.4 308.2,220.5 316.2,214.7 324.3,208.9 332.4,204.3 339.4,200.2 345.1,198.3 350,197.3 355.3,196.9 362.8,195.6 370.3,192.6 377.8,189.6 385.4,187.1 392.9,184.6 400.4,182.6 407.9,184.6 415.4,187.6 423,189.6 430.5,190.6 438,193.9 445.5,198.9 450,201.3 460,205.1 470,210.1 480.1,218.9 490.1,232.7 497.6,242.5 507.6,253.8 517.7,262.6 525.2,270.1 532.7,281.4 540.2,291.4 547.7,297.7 555.3,300.7 562.8,303.2 570.3,305.7 577.8,308.2 585.3,305.2 592.9,302.7 600.4,300.2 607.9,298.9 615.4,297.2 622.9,295.7 630.5,294.7 638,293.9 645.5,292.7 652,293.9 659.5,290.2 664,291 670,293.8 678.7,298.8 687.3,303.2 696,307.5 703.2,312.6 709,316.9 713.4,318.4 719.1,317.6 724.9,314 730.7,309 737.9,303.2 745.1,296.7 750.9,289.5 756.7,282.2 762.5,275 767.8,266.9 772.1,264 782.3,259.7 790.9,255.3 798.2,251.7" fill="none" stroke="#cc44cc" stroke-width="1.0" stroke-linejoin="round" />
<polyline points="37.2,168.6 45,163.1 52.2,158 60.1,160 70.1,163.8 80.1,170.1 90.2,177.6 100.2,183.1 107.7,186.4 115.2,198.9 125.2,202.7 135.3,206.4 142.8,211.6 145.8,215 154.5,223.7 158.8,232.3 163.1,243.9 167.5,252.6 171.8,258.1 177.6,258.4 183.4,260.5 189.1,256.9 194.9,249.7 200.7,241 206.5,233.8 212.3,227.3 218,222.2 223.8,220.5 229.6,220.8 233.9,225.1 239.6,228.9 244.9,232.1 251.8,234.7 258.7,234.9 265.1,235.2 272.6,234 280.1,234.7 287.3,234.3 293.1,228.6 298.9,219.9 304.7,213.5 308.2,207.7 310.5,202 313.9,198.5 318.6,195.6 322,194.8 327.8,195 334.7,196.2 339.4,198.5 345.1,200.2 350,200.6 354,200.1 360.3,196.4 367.8,190.1 375.3,182.6 382.9,178.1 390.4,175.8 397.9,175.8 402.9,180.1 410.4,187.6 417.9,196.4 423.3,201.2 427.7,201.7 433.8,198.2 440.7,196.8 445.9,200.3 452.8,205.5 458,210.7 465,215.1 475,225.1 485.1,242.7 492.6,257.7 500,268 507.6,275.1 515.2,277.1 520.2,276.4 525.2,282.6 532.7,295.2 540.2,307.7 546.5,319 550.3,320.7 557.8,316.5 565.3,311.5 570.3,305.2 577.8,296.4 585.3,292.2 592.9,296.4 600.4,301.4 607.9,303.9 612.9,302.7 620.4,297.7 627.9,293.9 635.5,290.2 643,288.1 650.5,289.6 658.3,285.7 663.3,291.4 670,299.6 675.8,306.1 681.6,313.3 685.9,318.4 688.8,320.5 696,319.3 704.7,320.5 711.9,321.2 716.2,318.4 720.6,312.6 724.9,306.1 729.2,299.6 733.6,292.3 737.9,285.1 742.3,278.6 747.2,272.5 754.8,262.6 762.3,252.6 768.5,248.8 774.8,248.8 779.8,252.6 786.1,254.6 792.4,253.8 798.6,251.3" fill="none" stroke="#444" stroke-width="0.9" stroke-linejoin="round" />
<line x1="38.9" y1="386.7" x2="38.9" y2="379.6" stroke="#d98484" stroke-width="1"/>
<line x1="44.7" y1="386.7" x2="44.7" y2="379.6" stroke="#d98484" stroke-width="1"/>
<line x1="50.5" y1="386.7" x2="50.5" y2="380.6" stroke="#d98484" stroke-width="1"/>
<line x1="56.3" y1="386.7" x2="56.3" y2="381.3" stroke="#d98484" stroke-width="1"/>
<line x1="62.1" y1="386.7" x2="62.1" y2="383.1" stroke="#d98484" stroke-width="1"/>
<line x1="67.9" y1="386.7" x2="67.9" y2="384.6" stroke="#d98484" stroke-width="1"/>
<line x1="79.5" y1="386.7" x2="79.5" y2="387.6" stroke="#78b982" stroke-width="1"/>
<line x1="85.3" y1="386.7" x2="85.3" y2="388.8" stroke="#78b982" stroke-width="1"/>
<line x1="91.1" y1="386.7" x2="91.1" y2="390.1" stroke="#78b982" stroke-width="1"/>
<line x1="96.9" y1="386.7" x2="96.9" y2="391.4" stroke="#78b982" stroke-width="1"/>
<line x1="102.7" y1="386.7" x2="102.7" y2="392.1" stroke="#78b982" stroke-width="1"/>
<line x1="108.5" y1="386.7" x2="108.5" y2="393.9" stroke="#78b982" stroke-width="1"/>
<line x1="114.3" y1="386.7" x2="114.3" y2="396.4" stroke="#78b982" stroke-width="1"/>
<line x1="120.1" y1="386.7" x2="120.1" y2="397.1" stroke="#78b982" stroke-width="1"/>
<line x1="125.9" y1="386.7" x2="125.9" y2="395.1" stroke="#78b982" stroke-width="1"/>
<line x1="131.7" y1="386.7" x2="131.7" y2="394.6" stroke="#78b982" stroke-width="1"/>
<line x1="137.5" y1="386.7" x2="137.5" y2="395.1" stroke="#78b982" stroke-width="1"/>
<line x1="143.3" y1="386.7" x2="143.3" y2="396.4" stroke="#78b982" stroke-width="1"/>
<line x1="149.1" y1="386.7" x2="149.1" y2="397.6" stroke="#78b982" stroke-width="1"/>
<line x1="154.9" y1="386.7" x2="154.9" y2="398.9" stroke="#78b982" stroke-width="1"/>
<line x1="160.7" y1="386.7" x2="160.7" y2="401.4" stroke="#78b982" stroke-width="1"/>
<line x1="166.5" y1="386.7" x2="166.5" y2="402.1" stroke="#78b982" stroke-width="1"/>
<line x1="172.3" y1="386.7" x2="172.3" y2="402.1" stroke="#78b982" stroke-width="1"/>
<line x1="178.1" y1="386.7" x2="178.1" y2="396.4" stroke="#78b982" stroke-width="1"/>
<line x1="183.9" y1="386.7" x2="183.9" y2="393.9" stroke="#78b982" stroke-width="1"/>
<line x1="189.7" y1="386.7" x2="189.7" y2="391.4" stroke="#78b982" stroke-width="1"/>
<line x1="201.3" y1="386.7" x2="201.3" y2="383.8" stroke="#d98484" stroke-width="1"/>
<line x1="207.1" y1="386.7" x2="207.1" y2="380.1" stroke="#d98484" stroke-width="1"/>
<line x1="212.9" y1="386.7" x2="212.9" y2="377.6" stroke="#d98484" stroke-width="1"/>
<line x1="218.7" y1="386.7" x2="218.7" y2="377.1" stroke="#d98484" stroke-width="1"/>
<line x1="224.5" y1="386.7" x2="224.5" y2="375.8" stroke="#d98484" stroke-width="1"/>
<line x1="230.3" y1="386.7" x2="230.3" y2="378.1" stroke="#d98484" stroke-width="1"/>
<line x1="236.1" y1="386.7" x2="236.1" y2="380.6" stroke="#d98484" stroke-width="1"/>
<line x1="241.9" y1="386.7" x2="241.9" y2="382.1" stroke="#d98484" stroke-width="1"/>
<line x1="247.7" y1="386.7" x2="247.7" y2="382.1" stroke="#d98484" stroke-width="1"/>
<line x1="253.5" y1="386.7" x2="253.5" y2="382.6" stroke="#d98484" stroke-width="1"/>
<line x1="259.3" y1="386.7" x2="259.3" y2="383.3" stroke="#d98484" stroke-width="1"/>
<line x1="265.1" y1="386.7" x2="265.1" y2="383.3" stroke="#d98484" stroke-width="1"/>
<line x1="270.9" y1="386.7" x2="270.9" y2="384.1" stroke="#d98484" stroke-width="1"/>
<line x1="276.7" y1="386.7" x2="276.7" y2="383.3" stroke="#d98484" stroke-width="1"/>
<line x1="282.5" y1="386.7" x2="282.5" y2="385.8" stroke="#d98484" stroke-width="1"/>
<line x1="288.3" y1="386.7" x2="288.3" y2="382.1" stroke="#d98484" stroke-width="1"/>
<line x1="294.1" y1="386.7" x2="294.1" y2="379.6" stroke="#d98484" stroke-width="1"/>
<line x1="299.9" y1="386.7" x2="299.9" y2="377.1" stroke="#d98484" stroke-width="1"/>
<line x1="305.7" y1="386.7" x2="305.7" y2="375.8" stroke="#d98484" stroke-width="1"/>
<line x1="311.5" y1="386.7" x2="311.5" y2="375" stroke="#d98484" stroke-width="1"/>
<line x1="317.3" y1="386.7" x2="317.3" y2="375.8" stroke="#d98484" stroke-width="1"/>
<line x1="323.1" y1="386.7" x2="323.1" y2="377.1" stroke="#d98484" stroke-width="1"/>
<line x1="328.9" y1="386.7" x2="328.9" y2="378.3" stroke="#d98484" stroke-width="1"/>
<line x1="334.7" y1="386.7" x2="334.7" y2="380.1" stroke="#d98484" stroke-width="1"/>
<line x1="340.5" y1="386.7" x2="340.5" y2="382.1" stroke="#d98484" stroke-width="1"/>
<line x1="346.3" y1="386.7" x2="346.3" y2="383.3" stroke="#d98484" stroke-width="1"/>
<line x1="352.1" y1="386.7" x2="352.1" y2="383.3" stroke="#d98484" stroke-width="1"/>
<line x1="357.9" y1="386.7" x2="357.9" y2="383.3" stroke="#d98484" stroke-width="1"/>
<line x1="363.7" y1="386.7" x2="363.7" y2="382.1" stroke="#d98484" stroke-width="1"/>
<line x1="369.5" y1="386.7" x2="369.5" y2="381.6" stroke="#d98484" stroke-width="1"/>
<line x1="375.3" y1="386.7" x2="375.3" y2="381.1" stroke="#d98484" stroke-width="1"/>
<line x1="381.1" y1="386.7" x2="381.1" y2="381.6" stroke="#d98484" stroke-width="1"/>
<line x1="386.9" y1="386.7" x2="386.9" y2="382.1" stroke="#d98484" stroke-width="1"/>
<line x1="392.7" y1="386.7" x2="392.7" y2="383.3" stroke="#d98484" stroke-width="1"/>
<line x1="398.5" y1="386.7" x2="398.5" y2="384.6" stroke="#d98484" stroke-width="1"/>
<line x1="404.3" y1="386.7" x2="404.3" y2="388.3" stroke="#78b982" stroke-width="1"/>
<line x1="410.1" y1="386.7" x2="410.1" y2="390.8" stroke="#78b982" stroke-width="1"/>
<line x1="415.9" y1="386.7" x2="415.9" y2="394.1" stroke="#78b982" stroke-width="1"/>
<line x1="421.7" y1="386.7" x2="421.7" y2="392.1" stroke="#78b982" stroke-width="1"/>
<line x1="427.5" y1="386.7" x2="427.5" y2="390.8" stroke="#78b982" stroke-width="1"/>
<line x1="433.3" y1="386.7" x2="433.3" y2="389.6" stroke="#78b982" stroke-width="1"/>
<line x1="439.1" y1="386.7" x2="439.1" y2="391.6" stroke="#78b982" stroke-width="1"/>
<line x1="444.9" y1="386.7" x2="444.9" y2="394.1" stroke="#78b982" stroke-width="1"/>
<line x1="450.7" y1="386.7" x2="450.7" y2="394.1" stroke="#78b982" stroke-width="1"/>
<line x1="456.5" y1="386.7" x2="456.5" y2="393.3" stroke="#78b982" stroke-width="1"/>
<line x1="462.3" y1="386.7" x2="462.3" y2="395.1" stroke="#78b982" stroke-width="1"/>
<line x1="468.1" y1="386.7" x2="468.1" y2="396.6" stroke="#78b982" stroke-width="1"/>
<line x1="473.9" y1="386.7" x2="473.9" y2="397.6" stroke="#78b982" stroke-width="1"/>
<line x1="479.7" y1="386.7" x2="479.7" y2="400.1" stroke="#78b982" stroke-width="1"/>
<line x1="485.5" y1="386.7" x2="485.5" y2="401.6" stroke="#78b982" stroke-width="1"/>
<line x1="491.3" y1="386.7" x2="491.3" y2="403.4" stroke="#78b982" stroke-width="1"/>
<line x1="497.1" y1="386.7" x2="497.1" y2="404.6" stroke="#78b982" stroke-width="1"/>
<line x1="502.9" y1="386.7" x2="502.9" y2="404.1" stroke="#78b982" stroke-width="1"/>
<line x1="508.7" y1="386.7" x2="508.7" y2="400.9" stroke="#78b982" stroke-width="1"/>
<line x1="514.5" y1="386.7" x2="514.5" y2="398.4" stroke="#78b982" stroke-width="1"/>
<line x1="520.3" y1="386.7" x2="520.3" y2="394.6" stroke="#78b982" stroke-width="1"/>
<line x1="526.1" y1="386.7" x2="526.1" y2="400.1" stroke="#78b982" stroke-width="1"/>
<line x1="531.9" y1="386.7" x2="531.9" y2="400.9" stroke="#78b982" stroke-width="1"/>
<line x1="537.7" y1="386.7" x2="537.7" y2="400.1" stroke="#78b982" stroke-width="1"/>
<line x1="543.5" y1="386.7" x2="543.5" y2="400.9" stroke="#78b982" stroke-width="1"/>
<line x1="549.3" y1="386.7" x2="549.3" y2="398.4" stroke="#78b982" stroke-width="1"/>
<line x1="555.1" y1="386.7" x2="555.1" y2="394.1" stroke="#78b982" stroke-width="1"/>
<line x1="560.9" y1="386.7" x2="560.9" y2="388.3" stroke="#78b982" stroke-width="1"/>
<line x1="566.7" y1="386.7" x2="566.7" y2="385.8" stroke="#d98484" stroke-width="1"/>
<line x1="572.5" y1="386.7" x2="572.5" y2="382.8" stroke="#d98484" stroke-width="1"/>
<line x1="578.3" y1="386.7" x2="578.3" y2="380.3" stroke="#d98484" stroke-width="1"/>
<line x1="584.1" y1="386.7" x2="584.1" y2="379.1" stroke="#d98484" stroke-width="1"/>
<line x1="589.9" y1="386.7" x2="589.9" y2="380.8" stroke="#d98484" stroke-width="1"/>
<line x1="595.7" y1="386.7" x2="595.7" y2="380.1" stroke="#d98484" stroke-width="1"/>
<line x1="601.5" y1="386.7" x2="601.5" y2="380.1" stroke="#d98484" stroke-width="1"/>
<line x1="607.3" y1="386.7" x2="607.3" y2="381.1" stroke="#d98484" stroke-width="1"/>
<line x1="613.1" y1="386.7" x2="613.1" y2="378.3" stroke="#d98484" stroke-width="1"/>
<line x1="618.9" y1="386.7" x2="618.9" y2="377.6" stroke="#d98484" stroke-width="1"/>
<line x1="624.7" y1="386.7" x2="624.7" y2="377.1" stroke="#d98484" stroke-width="1"/>
<line x1="630.5" y1="386.7" x2="630.5" y2="377.6" stroke="#d98484" stroke-width="1"/>
<line x1="636.3" y1="386.7" x2="636.3" y2="376.5" stroke="#d98484" stroke-width="1"/>
<line x1="642.1" y1="386.7" x2="642.1" y2="375.8" stroke="#d98484" stroke-width="1"/>
<line x1="647.9" y1="386.7" x2="647.9" y2="378.3" stroke="#d98484" stroke-width="1"/>
<line x1="653.7" y1="386.7" x2="653.7" y2="378.3" stroke="#d98484" stroke-width="1"/>
<line x1="659.5" y1="386.7" x2="659.5" y2="379.1" stroke="#d98484" stroke-width="1"/>
<line x1="665.3" y1="386.7" x2="665.3" y2="383.3" stroke="#d98484" stroke-width="1"/>
<line x1="676.9" y1="386.7" x2="676.9" y2="388.3" stroke="#78b982" stroke-width="1"/>
<line x1="682.7" y1="386.7" x2="682.7" y2="388.6" stroke="#78b982" stroke-width="1"/>
<line x1="688.5" y1="386.7" x2="688.5" y2="388.6" stroke="#78b982" stroke-width="1"/>
<line x1="694.3" y1="386.7" x2="694.3" y2="388.6" stroke="#78b982" stroke-width="1"/>
<line x1="700.1" y1="386.7" x2="700.1" y2="388.6" stroke="#78b982" stroke-width="1"/>
<line x1="705.9" y1="386.7" x2="705.9" y2="388.6" stroke="#78b982" stroke-width="1"/>
<line x1="711.7" y1="386.7" x2="711.7" y2="388.1" stroke="#78b982" stroke-width="1"/>
<line x1="717.5" y1="386.7" x2="717.5" y2="384.6" stroke="#d98484" stroke-width="1"/>
<line x1="723.3" y1="386.7" x2="723.3" y2="380.8" stroke="#d98484" stroke-width="1"/>
<line x1="729.1" y1="386.7" x2="729.1" y2="377.6" stroke="#d98484" stroke-width="1"/>
<line x1="734.9" y1="386.7" x2="734.9" y2="376.5" stroke="#d98484" stroke-width="1"/>
<line x1="740.7" y1="386.7" x2="740.7" y2="375" stroke="#d98484" stroke-width="1"/>
<line x1="746.5" y1="386.7" x2="746.5" y2="375" stroke="#d98484" stroke-width="1"/>
<line x1="752.3" y1="386.7" x2="752.3" y2="369.5" stroke="#d98484" stroke-width="1"/>
<line x1="758.1" y1="386.7" x2="758.1" y2="369" stroke="#d98484" stroke-width="1"/>
<line x1="763.9" y1="386.7" x2="763.9" y2="368.3" stroke="#d98484" stroke-width="1"/>
<line x1="769.7" y1="386.7" x2="769.7" y2="370" stroke="#d98484" stroke-width="1"/>
<line x1="775.5" y1="386.7" x2="775.5" y2="374.5" stroke="#d98484" stroke-width="1"/>
<line x1="781.3" y1="386.7" x2="781.3" y2="377.1" stroke="#d98484" stroke-width="1"/>
<line x1="787.1" y1="386.7" x2="787.1" y2="378.3" stroke="#d98484" stroke-width="1"/>
<line x1="792.9" y1="386.7" x2="792.9" y2="377.1" stroke="#d98484" stroke-width="1"/>
<line x1="798.7" y1="386.7" x2="798.7" y2="380.1" stroke="#d98484" stroke-width="1"/>
<polyline points="37.5,388.8 50,387.1 67.6,385.1 80.1,384.6 92.7,386.3 105.2,388.1 117.7,390.6 130.3,392.6 142.8,395.1 155.3,398.1 167.8,402.1 180.4,404.6 192.9,405.6 205.4,403.9 218,401.4 230.5,398.9 240,397.6 252.5,395.8 265.1,394.6 277.6,394.1 287.6,393.3 297.6,390.1 307.7,387.1 317.7,385.1 327.7,383.3 340.3,382.1 352.8,380.8 365.3,380.1 377.8,378.3 390.4,376.5 402.9,376.5 415.4,378.3 428,380.1 440.5,381.6 450,383.3 460,385.1 470,388.3 480.1,392.1 490.1,395.8 500,399.1 510.2,401.6 520.2,404.1 530.2,406.6 540.2,409.1 550.3,411.6 560.3,412.6 570.3,411.6 580.3,410.1 590.4,408.4 600.4,406.6 610.4,405.1 620.4,402.6 630.5,400.1 640.5,398.4 650.5,396.6 664.5,394.6 677,395.8 689.6,397.1 702,397.6 712.2,397.1 722.2,395.1 732.2,393.3 742.2,390.8 752.3,387.6 762.3,384.1 772.3,380.8 782.3,379.1 792.4,377.6 798.6,375.8" fill="none" stroke="#d23bd2" stroke-width="1.1" stroke-linejoin="round" />
<polyline points="37.5,382.6 50,382.1 67.6,382.6 80.1,385.6 92.7,387.6 105.2,389.6 115.2,395.1 130.3,395.9 140.3,398.9 150.3,401.4 160.3,406.4 171.6,410.7 180.4,408.9 190.4,408.1 200.4,403.9 210.5,398.9 220.5,395.1 230.5,394.6 240,395.1 252.5,394.1 265.1,393.3 275.1,392.1 283.9,393.3 290.1,389.6 300.2,385.1 310.2,382.1 320.2,380.1 327.7,379.1 337.7,379.6 347.8,380.8 357.8,379.6 367.8,377.6 375.3,375.8 385.4,375 397.9,375.3 405.4,377.6 415.4,381.6 425.5,381.6 433,380.8 440.5,384.1 448,386.6 460,388.3 470,392.1 480.1,397.1 490.1,402.1 500,406.6 510.2,407.6 520.2,407.1 527.7,410.9 537.7,415.1 547.7,417.7 555.3,415.9 562.8,413.4 572.8,409.6 582.8,405.9 592.9,404.6 600.4,403.4 607.9,403.4 615.4,400.1 625.4,397.6 633,396.6 640.5,393.3 650.5,392.8 658,391.3 663,393.5 669,395.6 677,397.1 689.6,396.6 702,398.4 712.2,397.6 719.7,394.6 727.2,390.8 737.2,387.6 744.7,383.3 752.3,379.1 759.8,375 764.8,373.3 772.3,375 779.8,376.5 787.3,374.5 798.6,373.3" fill="none" stroke="#444" stroke-width="0.9" stroke-linejoin="round" />
<polyline points="37.5,444.2 45,441.2 52.5,440 60,441.2 67.5,443.7 74.9,449.9 82.4,456.2 92.4,463.7 102.4,469.9 112.4,474.9 119.9,477.4 127.4,476.2 134.9,474.4 139.9,474.4 147.4,476.2 154.8,477.9 162.3,479.4 169.8,479.4 177.3,477.4 184.8,473.7 192.3,468.7 199.8,461.2 207.3,453.7 214.8,448 222.3,445.7 227.3,445.7 234.7,449.9 242.2,454.4 250,459.8 260.1,465.3 270.1,467.3 278.8,464.8 283.9,466 290.1,459.8 300.2,449.7 310.2,442.2 317.7,440.2 327.7,439.2 335.2,441.7 342.8,447.2 350.3,451.7 357.8,453.5 365.3,453.5 372.8,449.7 380.4,446.7 387.9,445.2 396.6,445.2 401.7,447.7 407.9,453.5 415.4,459.8 423,462.8 433,462.3 440.5,464.3 448,466.8 457.5,467.3 465,471 475,474.3 485.1,477.8 495.1,480.3 502.6,481.1 512.7,479.3 522.7,476 532.7,476 542.7,477.8 550.3,476 557.8,472.3 565.3,467.3 572.8,462.3 580.3,458.5 587.8,456.7 595.4,456 602.9,458.5 607.9,460.3 615.4,456 625.4,452.2 635.5,448.5 643,446 650.5,444.2 659.5,441.7 664.5,444.7 672,453.5 679.6,459.8 689.6,463.5 702,465.3 712.2,466.8 722,464 732,457 742,447 749.7,441 757.3,437.7 764.8,436.7 772.3,439.2 779.8,444.2 787.3,447.7 794.9,449.2 798.6,448.5" fill="none" stroke="#c83cc8" stroke-width="1.1" stroke-linejoin="round" />
<polyline points="37.5,436.7 47.5,438 56.2,440.5 67.5,447.5 74.9,461.2 79.9,466.2 86.2,467.4 92.4,472.4 97.4,476.2 103.7,476.9 113.6,482.4 119.9,481.2 126.1,474.4 134.9,470.7 139.9,472.4 147.4,477.4 153.6,479.9 159.8,482.4 166.1,480.7 172.3,477.9 178.6,471.2 184.8,467.9 189.8,466.2 194.8,456.2 202.3,446.2 207.8,440.5 214.8,440.5 223.5,443 229.8,448.7 236,456.2 242.2,462.4 250,466 258.8,471 267.6,467.3 272.6,465.3 276.3,460.3 282.1,468.5 287.6,457.3 293.9,446 300.2,439.2 310.2,434.7 317.7,437.2 324,439.7 330.2,439.7 335.2,443.5 340.3,451 346.5,457.8 351.5,459.3 357.8,457.3 364.1,454.2 370.3,447.2 376.6,441.7 381.6,440.5 387.9,442.7 396.6,444.7 400.4,451 405.4,461 411.7,469.8 415.9,472.8 423,466 433,459.3 438,463.5 444.3,469.3 451.8,468 455,467.8 461.3,473.5 470,476.8 480.1,480.3 490.1,483.6 497.6,484.1 505.1,481.1 512.7,476.8 519.7,469.8 526.4,475.3 535.2,476 544,478.6 552.8,474.8 560.3,466 567.8,461.8 574.1,455.2 582.8,451 590.4,456 595.4,455.2 600.4,459.8 606.6,466.8 611.7,457.3 617.9,451.7 624.2,449.2 630.5,451 636.7,443.5 641.7,439.2 648,442.7 653,440.2 658.3,439.2 663.3,447.2 669.5,459.8 675.8,467.3 684.6,467.3 692.1,465.3 699.6,467.3 712.2,466 722,461 732,452 742,443 752.3,437.2 759.8,434.7 766,434.7 771,441 777.3,449.7 782.3,452.2 789.8,448.5 797.4,446" fill="none" stroke="#444" stroke-width="0.9" stroke-linejoin="round" />
</g>
<line x1="645.5" y1="197.2" x2="807.5" y2="197.2" stroke="#e8393c" stroke-width="2.2"/>
<line x1="726" y1="289.9" x2="805.5" y2="289.9" stroke="#e8393c" stroke-width="2.6"/>
<line x1="740" y1="458" x2="802.5" y2="458" stroke="#e8393c" stroke-width="2.4"/>
<text x="691.8" y="181.7" font-family="'Liberation Sans', 'Noto Sans CJK SC', sans-serif" font-size="10.5" fill="#e2474f" textLength="53.2" lengthAdjust="spacingAndGlyphs">压力26000</text>
<text x="740.8" y="316.3" font-family="'Liberation Sans', 'Noto Sans CJK SC', sans-serif" font-size="10.5" fill="#e2474f" textLength="53.6" lengthAdjust="spacingAndGlyphs">支撑24500</text>
<text x="697.2" y="449.4" font-family="'Liberation Sans', 'Noto Sans CJK SC', sans-serif" font-size="10.5" fill="#e2474f" textLength="114.6" lengthAdjust="spacingAndGlyphs">KD在50以上，多方掌控</text>
<text x="49.8 53.8 57.9 61.9 65.9 70.9 74 78" y="143.3" font-family="'Liberation Sans', sans-serif" font-size="7.4" fill="#cf722c" font-weight="normal">26822.47</text>
<path d="M49.3 142.4 L40.3 145.8 M40.3 145.8 l2.6 -2.4 M40.3 145.8 l3.4 0.3" stroke="#d2742c" stroke-width="0.9" fill="none"/>
<text x="693.4 697.4 701.5 705.5 709.5 714.5 717.6 721.6" y="339.4" font-family="'Liberation Sans', sans-serif" font-size="7.4" fill="#cf722c" font-weight="normal">23681.44</text>
<path d="M693 338.6 L683.2 341.6 M683.2 341.6 l2.8 -2.2 M683.2 341.6 l3.5 0.5" stroke="#d2742c" stroke-width="0.9" fill="none"/>
<text x="36.2 40.1 44.1" y="363.6" font-family="'Liberation Sans', sans-serif" font-size="7.4" fill="#333" font-weight="normal">366</text>
<path d="M54.6 365.3 v-7.8 m-2.1 2.7 l2.1 -2.9 l2.1 2.9" stroke="#333" stroke-width="0.9" fill="none"/>
<text x="60.7 64.7 68.7 74.2 77.3 81.3 85.2 90.2 93.2 97.2 101.2" y="363.6" font-family="'Liberation Sans', sans-serif" font-size="7.4" fill="#d030d0" font-weight="bold">DEA:160.171</text>
<path d="M112.7 365.3 v-7.8 m-2.1 2.7 l2.1 -2.9 l2.1 2.9" stroke="#d030d0" stroke-width="0.9" fill="none"/>
<text x="119.1 123.1 127 131 136.5 139.5 143.5 147.5 152.4 155.4 159.4 163.3" y="363.6" font-family="'Liberation Sans', sans-serif" font-size="7.4" fill="#8a8a8a" font-weight="normal">MACD:112.390</text>
<path d="M174.6 357.5 v7.8 m-2.1 -2.7 l2.1 2.9 l2.1 -2.9" stroke="#8a8a8a" stroke-width="0.9" fill="none"/>
<text x="38.2 41.2 45.2 50.1 53.1 57.1 61.1" y="428.6" font-family="'Liberation Sans', sans-serif" font-size="7.4" fill="#d030d0" font-weight="normal">:67.878</text>
<path d="M72.1 430.3 v-7.8 m-2.1 2.7 l2.1 -2.9 l2.1 2.9" stroke="#d030d0" stroke-width="0.9" fill="none"/>
<text x="704.1" y="363.9" font-family="'Liberation Sans', 'Noto Sans CJK SC', sans-serif" font-size="8.4" fill="#666" textLength="24.4" lengthAdjust="spacingAndGlyphs">改参数</text>
<text x="734.7" y="363.9" font-family="'Liberation Sans', 'Noto Sans CJK SC', sans-serif" font-size="8.4" fill="#666" textLength="24.6" lengthAdjust="spacingAndGlyphs">加指标</text>
<text x="766" y="363.9" font-family="'Liberation Sans', 'Noto Sans CJK SC', sans-serif" font-size="8.4" fill="#666" textLength="24" lengthAdjust="spacingAndGlyphs">换指标</text>
<rect x="796.9" y="356.7" width="9.4" height="8.2" fill="#fdfdfd" stroke="#9a9a9a" stroke-width="0.8"/>
<path d="M799.3 358.5 l4.6 4.6 m0 -4.6 l-4.6 4.6" stroke="#777" stroke-width="0.8" fill="none"/>
<text x="704.1" y="429" font-family="'Liberation Sans', 'Noto Sans CJK SC', sans-serif" font-size="8.4" fill="#666" textLength="24.4" lengthAdjust="spacingAndGlyphs">改参数</text>
<text x="734.7" y="429" font-family="'Liberation Sans', 'Noto Sans CJK SC', sans-serif" font-size="8.4" fill="#666" textLength="24.6" lengthAdjust="spacingAndGlyphs">加指标</text>
<text x="766" y="429" font-family="'Liberation Sans', 'Noto Sans CJK SC', sans-serif" font-size="8.4" fill="#666" textLength="24" lengthAdjust="spacingAndGlyphs">换指标</text>
<rect x="796.9" y="421.8" width="9.4" height="8.2" fill="#fdfdfd" stroke="#9a9a9a" stroke-width="0.8"/>
<path d="M799.3 423.6 l4.6 4.6 m0 -4.6 l-4.6 4.6" stroke="#777" stroke-width="0.8" fill="none"/>
<polygon points="796.3,237.4 809.4,229.8 805.9,226 822.2,230.3 817.3,247.2 815,241 802,248.2" fill="none" stroke="#f21414" stroke-width="2.3" stroke-linejoin="miter"/>
<polygon points="826.2,222.1 849.6,226.3 850.7,217.8 863.8,237.8 843.6,250.6 844.9,242.1 823.8,237.2" fill="none" stroke="#f21414" stroke-width="2.3" stroke-linejoin="miter"/>
<g id="wm">
<defs><linearGradient id="rg" x1="0.8" y1="0.1" x2="0.2" y2="0.95"><stop offset="0" stop-color="#e84a1c"/><stop offset="1" stop-color="#c8261a"/></linearGradient><linearGradient id="gg" x1="0.3" y1="0" x2="0.5" y2="1"><stop offset="0" stop-color="#ffe383"/><stop offset="0.55" stop-color="#fcc94f"/><stop offset="1" stop-color="#f59a1c"/></linearGradient></defs>
<circle cx="735" cy="469.5" r="22.7" fill="url(#rg)"/>
<path d="M723.3,486.7 C728.7,486.5 735.3,485.3 740.8,482.2 C746.6,478.7 750.3,472.9 749.4,467.2 C748.5,462.2 744.1,458.5 739.7,459.1 C738.5,457.1 736.0,455.7 733.3,456.0 C729.9,456.0 727.2,458.5 726.7,462.0 C724.1,462.5 722.1,464.9 721.8,468.3 C721.8,471.8 723.5,474.7 726.4,476.4 C729.9,478.4 734.8,478.2 737.9,476.1 L739.7,478.2 C737.4,481.0 732.2,483.9 723.3,486.7 Z" fill="url(#gg)"/>
<path d="M732.7,470.8 C732.3,468.4 735.3,466.5 738.1,468.1 C741,469.8 741,474.6 737.8,478.6" fill="none" stroke="#d53a1b" stroke-width="1.9" stroke-linecap="round"/>
<text x="761.9" y="477.6" opacity="0.82" font-family="'Noto Serif CJK SC', 'Liberation Serif', serif" font-weight="900" font-size="30" fill="#9e9e9e" stroke="#9e9e9e" stroke-width="0.9" stroke-linejoin="round" textLength="94.6" lengthAdjust="spacingAndGlyphs">中金网</text>
<text x="764" y="490.9" font-family="'Liberation Sans', sans-serif" font-size="9.1" fill="#a3a3a3" textLength="89.4" lengthAdjust="spacing">CNGOLD.COM.CN</text>
<text x="715.1" y="505.2" font-family="'Liberation Sans', 'Noto Sans CJK SC', sans-serif" font-weight="300" font-size="12" fill="#a4a4a4" textLength="137.4" lengthAdjust="spacing">中文财经新媒体</text>
</g>
<text x="334.3" y="45" font-family="'Liberation Serif', 'Noto Serif CJK SC', serif" font-size="22" fill="#222" textLength="88.4" lengthAdjust="spacingAndGlyphs">恒生指数</text>
<text x="435" y="45" font-family="'Liberation Serif', 'Noto Serif CJK SC', serif" font-size="22" fill="#222">2</text>
<text x="452.4" y="45" font-family="'Liberation Serif', 'Noto Serif CJK SC', serif" font-size="22" fill="#222" textLength="89.4" lengthAdjust="spacingAndGlyphs">小时走势</text>
</svg>
</body>
</html>
